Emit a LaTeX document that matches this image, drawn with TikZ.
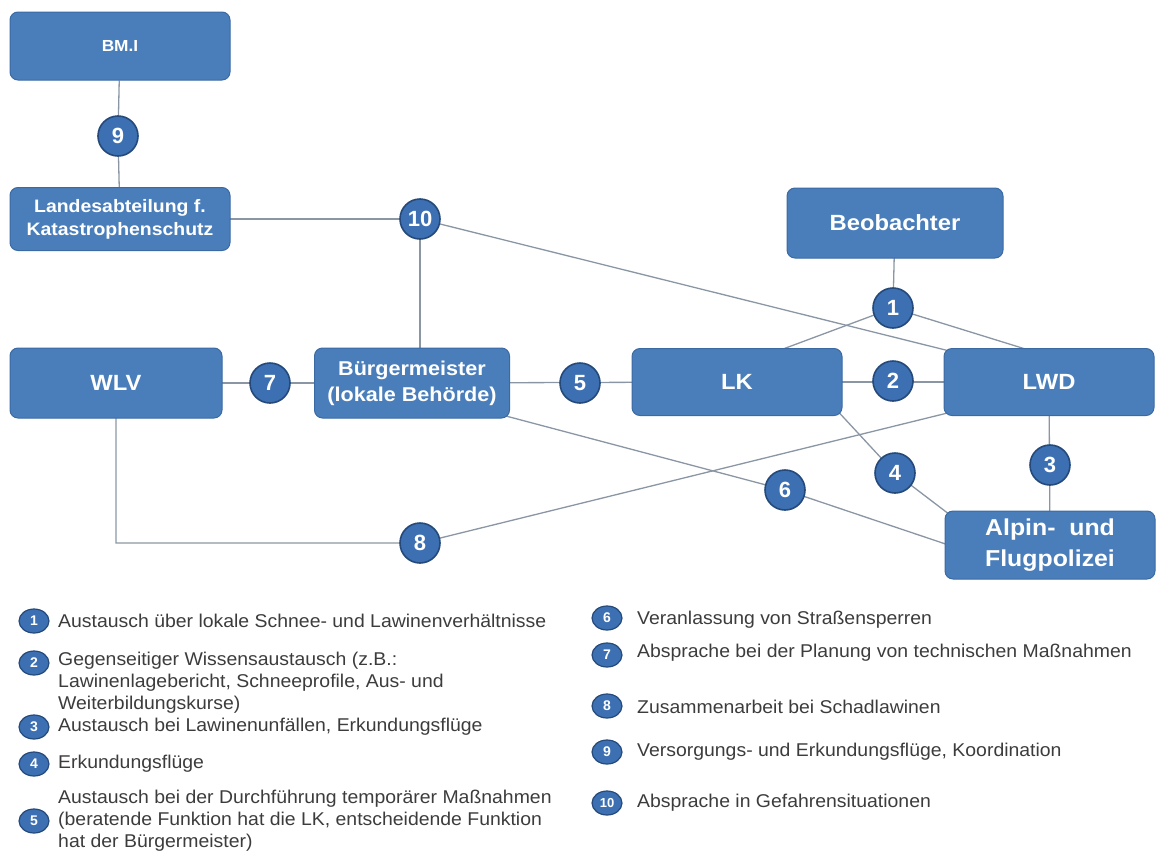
\documentclass[tikz,border=0pt]{standalone}
\usepackage{fontspec}
\setmainfont{Liberation Sans}
\newfontfamily\legfont[FakeStretch=1.05]{Liberation Sans}
\newfontfamily\boxfont[FakeStretch=1.08]{Liberation Sans Bold}
\usetikzlibrary{backgrounds,shapes.geometric}
\definecolor{boxfill}{HTML}{4A7EBB}
\definecolor{boxline}{HTML}{3B6AA3}
\definecolor{circfill}{HTML}{3D70B2}
\definecolor{circline}{HTML}{24497A}
\definecolor{linkgray}{HTML}{8A96A3}
\definecolor{legtext}{HTML}{3C3C3C}
\begin{document}
\begin{tikzpicture}[x=1pt,y=-1pt,
 orgbox/.style={draw=boxline, line width=1pt, fill=boxfill, rounded corners=8pt, text=white, align=center, inner sep=0pt},
 numc/.style={circle, draw=circline, line width=1.6pt, fill=circfill, text=white, font=\bfseries\fontsize{22}{22}\selectfont, minimum size=40pt, inner sep=0pt},
 legc/.style={ellipse, draw=circline, line width=1.2pt, fill=circfill, text=white, font=\bfseries\fontsize{14}{14}\selectfont, minimum width=30pt, minimum height=24pt, inner sep=0pt},
 link/.style={draw=linkgray, line width=1.3pt},
 legt/.style={anchor=west, text=legtext, font=\legfont\fontsize{18.5}{22}\selectfont, align=left, inner sep=0pt}
]
\useasboundingbox (0,0) rectangle (1156,854);

% boxes
\node[orgbox, minimum width=220pt, minimum height=68pt, font=\boxfont\fontsize{16}{19}\selectfont] (bmi) at (120,46) {BM.I};
\node[orgbox, minimum width=220pt, minimum height=63pt, font=\boxfont\fontsize{18}{23}\selectfont] (land) at (120,219) {Landesabteilung f.\\Katastrophenschutz};
\node[orgbox, minimum width=216pt, minimum height=70pt, font=\boxfont\fontsize{22}{26}\selectfont] (beo) at (895,223) {Beobachter};
\node[orgbox, minimum width=212pt, minimum height=70pt, font=\boxfont\fontsize{22}{26}\selectfont] (wlv) at (116,383) {WLV};
\node[orgbox, minimum width=195pt, minimum height=70pt, font=\boxfont\fontsize{20}{26}\selectfont] (bgm) at (412,383) {Bürgermeister\\(lokale Behörde)};
\node[orgbox, minimum width=210pt, minimum height=67pt, font=\boxfont\fontsize{22}{26}\selectfont] (lk) at (737,382) {LK};
\node[orgbox, minimum width=210pt, minimum height=67pt, font=\boxfont\fontsize{22}{26}\selectfont] (lwd) at (1049,382) {LWD};
\node[orgbox, minimum width=210pt, minimum height=68pt, font=\boxfont\fontsize{23}{31}\selectfont] (alp) at (1050,545) {Alpin-\ \ und\\Flugpolizei};

% number circles
\node[numc] (c9) at (118,136) {9};
\node[numc] (c10) at (420,219) {10};
\node[numc] (c1) at (893,308) {1};
\node[numc] (c7) at (270,383) {7};
\node[numc] (c5) at (580,383) {5};
\node[numc] (c2) at (893,381) {2};
\node[numc] (c3) at (1050,465) {3};
\node[numc] (c4) at (895,473) {4};
\node[numc] (c6) at (785,490) {6};
\node[numc] (c8) at (420,543) {8};

\coordinate (wlvcorner) at (wlv.south |- c8);

\begin{scope}[on background layer]
\draw[link] (bmi) -- (c9) -- (land);
\draw[link] (land.center) -- (c10.center) -- (c10 |- bgm.center);
\draw[link] (c10.center) -- ([xshift=6pt,yshift=-3pt]lwd.north west);
\draw[link] (beo.center) -- (c1.center);
\draw[link] (c1.center) -- ([xshift=38pt,yshift=-4pt]lk.north);
\draw[link] (c1.center) -- ([xshift=-14pt,yshift=-4pt]lwd.north);
\draw[link] (wlv.center) -- (bgm.center);
\draw[link] (bgm.center) -- (lk.center);
\draw[link] (lk.center) -- (lwd.center);
\draw[link] (lwd.center) -- (alp.center);
\draw[link] ([xshift=-4pt,yshift=4pt]lk.south east) -- (c4.center) -- ([xshift=5pt,yshift=-4pt]alp.north west);
\draw[link] ([xshift=-6pt,yshift=3pt]bgm.south east) -- (c6.center) -- ([xshift=4pt]alp.west);
\draw[link] (wlv.center) -- (wlvcorner) -- (c8.center) -- ([xshift=4pt,yshift=3pt]lwd.south west);
\end{scope}

% legend left
\node[legc] (l1) at (34,621) {1};
\node[legt] (t1) at (58,621) {Austausch über lokale Schnee- und Lawinenverhältnisse};
\node[legc] (l2) at (34,663) {2};
\node[legt] (t2) at (58,683) {Gegenseitiger Wissensaustausch (z.B.:\\Lawinenlagebericht, Schneeprofile, Aus- und\\Weiterbildungskurse)};
\node[legc] (l3) at (34,727) {3};
\node[legt] (t3) at (58,727) {Austausch bei Lawinenunfällen, Erkundungsflüge};
\node[legc] (l4) at (34,764) {4};
\node[legt] (t4) at (58,764) {Erkundungsflüge};
\node[legc] (l5) at (34,821) {5};
\node[legt] (t5) at (58,821) {Austausch bei der Durchführung temporärer Maßnahmen\\(beratende Funktion hat die LK, entscheidende Funktion\\hat der Bürgermeister)};

% legend right
\node[legc] (l6) at (607,618) {6};
\node[legt] (t6) at (637,620) {Veranlassung von Straßensperren};
\node[legc] (l7) at (607,655) {7};
\node[legt] (t7) at (637,653) {Absprache bei der Planung von technischen Maßnahmen};
\node[legc] (l8) at (607,706) {8};
\node[legt] (t8) at (637,707) {Zusammenarbeit bei Schadlawinen};
\node[legc] (l9) at (607,752) {9};
\node[legt] (t9) at (637,752) {Versorgungs- und Erkundungsflüge, Koordination};
\node[legc, font=\bfseries\fontsize{13}{13}\selectfont] (l10) at (607,803) {10};
\node[legt] (t10) at (637,803) {Absprache in Gefahrensituationen};
\end{tikzpicture}
\end{document}
